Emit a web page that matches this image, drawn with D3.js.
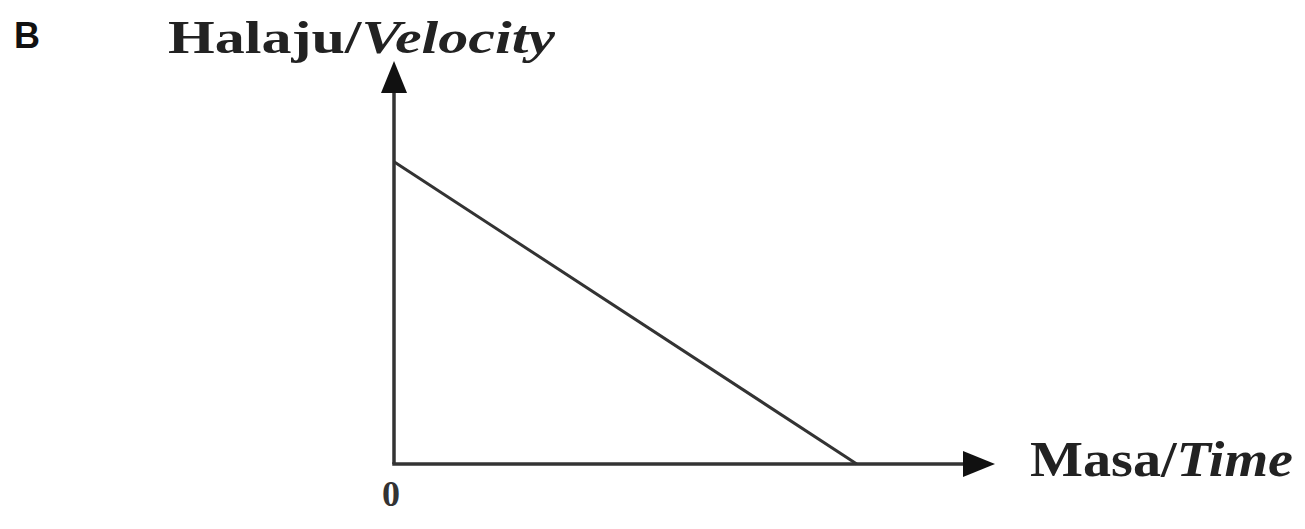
<!DOCTYPE html>
<html>
<head>
<meta charset="utf-8">
<script src="https://cdn.jsdelivr.net/npm/d3@7"></script>
<style>
  html, body { margin: 0; padding: 0; background: #ffffff; }
  svg { display: block; }
</style>
</head>
<body>
<svg id="chart" width="1305" height="529"></svg>
<script>
// Velocity–time graph: velocity falls linearly to zero
const panelLabel = "B";
const yAxisLabel = ["Halaju/", "Velocity"];
const xAxisLabel = ["Masa/", "Time"];
const originLabel = "0";
const time = [0, 7.7];
const velocity = [7.5, 0];
const axisMax = 10;

const svg = d3.select("#chart");
const ink = "#333333";

const x = d3.scaleLinear().domain([0, axisMax]).range([394, 995]);
const y = d3.scaleLinear().domain([0, axisMax]).range([464, 61]);

// axes with arrowheads
const arrowLen = 32, arrowHalf = 13;
svg.append("line")
  .attr("x1", x(0)).attr("y1", y(0))
  .attr("x2", x(0)).attr("y2", y(axisMax) + arrowLen - 2)
  .attr("stroke", ink).attr("stroke-width", 3.5);
svg.append("path")
  .attr("d", `M${x(0)},${y(axisMax)} L${x(0) - arrowHalf},${y(axisMax) + arrowLen} L${x(0) + arrowHalf},${y(axisMax) + arrowLen} Z`)
  .attr("fill", "#111");

svg.append("line")
  .attr("x1", x(0) - 1.75).attr("y1", y(0))
  .attr("x2", x(axisMax) - arrowLen + 2).attr("y2", y(0))
  .attr("stroke", ink).attr("stroke-width", 3.5);
svg.append("path")
  .attr("d", `M${x(axisMax)},${y(0)} L${x(axisMax) - arrowLen},${y(0) - arrowHalf} L${x(axisMax) - arrowLen},${y(0) + arrowHalf} Z`)
  .attr("fill", "#111");

// the velocity line
const pts = time.map((t, i) => [t, velocity[i]]);
svg.append("path")
  .datum(pts)
  .attr("d", d3.line().x(d => x(d[0])).y(d => y(d[1])))
  .attr("fill", "none")
  .attr("stroke", ink)
  .attr("stroke-width", 3);

// labels
svg.append("text")
  .attr("x", 14).attr("y", 48)
  .attr("font-family", "Liberation Sans, Arial, sans-serif")
  .attr("font-weight", "bold")
  .attr("font-size", 36)
  .attr("fill", "#111")
  .text(panelLabel);

function axisTitle(parts, px, py, size, width) {
  const t = svg.append("text")
    .attr("x", px).attr("y", py)
    .attr("font-family", "Liberation Serif, 'Times New Roman', serif")
    .attr("font-weight", "bold")
    .attr("font-size", size)
    .attr("fill", "#222")
    .attr("textLength", width)
    .attr("lengthAdjust", "spacingAndGlyphs");
  t.append("tspan").text(parts[0]);
  t.append("tspan").attr("font-style", "italic").text(parts[1]);
}
axisTitle(yAxisLabel, 168, 53, 46, 387);
axisTitle(xAxisLabel, 1030, 476, 50, 263);

svg.append("text")
  .attr("x", 391).attr("y", 506)
  .attr("text-anchor", "middle")
  .attr("font-family", "Liberation Serif, 'Times New Roman', serif")
  .attr("font-weight", "bold")
  .attr("font-size", 36)
  .attr("fill", "#333")
  .text(originLabel);
</script>
</body>
</html>
